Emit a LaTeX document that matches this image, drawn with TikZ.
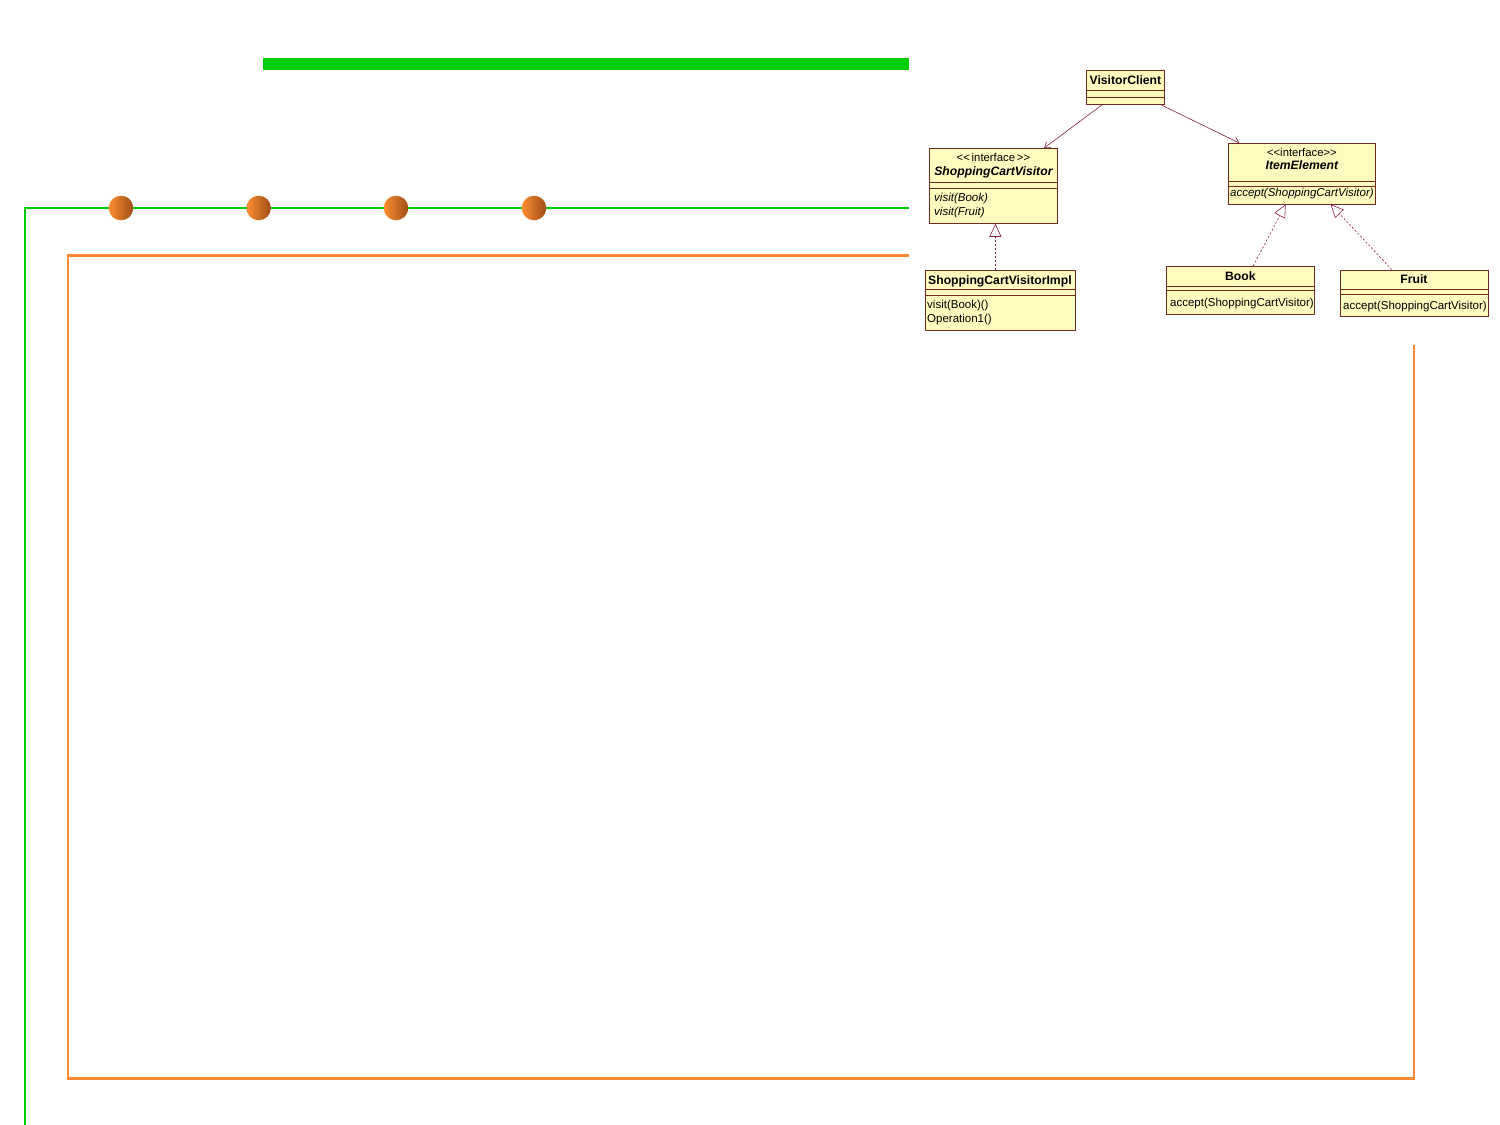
\documentclass[tikz,border=0pt]{standalone}
\usepackage{fontspec}
\setmainfont{Liberation Sans}
\usepackage{xcolor}
\usepackage{tikz}
\usetikzlibrary{arrows.meta}

\definecolor{slidegreen}{RGB}{0,204,0}
\definecolor{slideorange}{RGB}{255,136,51}
\definecolor{balllight}{RGB}{252,142,50}
\definecolor{balldark}{RGB}{160,76,22}
\definecolor{umlfill}{RGB}{255,251,190}
\definecolor{umlborder}{RGB}{112,44,32}
\definecolor{umlline}{RGB}{128,36,60}

\tikzset{
	classbox/.style={draw=umlborder, fill=umlfill, line width=0.8pt, anchor=north west, inner sep=0pt},
	classname/.style={font=\fontsize{12.2}{14}\selectfont\bfseries, anchor=base, inner sep=0pt},
	stereotype/.style={font=\fontsize{11.3}{14}\selectfont, anchor=base, inner sep=0pt},
	operations/.style={font=\fontsize{11.5}{14}\selectfont, anchor=base west, inner sep=0pt, align=left},
	compartment/.style={draw=umlborder, line width=0.8pt},
	assoc/.style={draw=umlline, line width=0.6pt, -{Straight Barb[length=5pt,width=7pt]}},
	realize/.style={draw=umlline, line width=0.6pt, dash pattern=on 2pt off 2pt, -{Triangle[open,length=13pt,width=12pt]}}
}

\begin{document}
\begin{tikzpicture}[x=1pt, y=-1pt]
			\path[use as bounding box, fill=white] (0,0) rectangle (1500,1125);
			
			\coordinate (G1) at (263,58);
			\coordinate (G2) at (909,69.7);
			\coordinate (L1) at (909,208);
			\coordinate (L2) at (25,208);
			\coordinate (L3) at (25,1125);
			\coordinate (F1) at (909,255.3);
			\coordinate (F2) at (68,255.3);
			\coordinate (F3) at (68,1078.7);
			\coordinate (F4) at (1414,1078.7);
			\coordinate (F5) at (1414,345);
			
			\fill[slidegreen] (G1) rectangle (G2);
			\draw[slidegreen, line width=2.2pt] (L1) -- (L2) -- (L3);
			\draw[slideorange, line width=2.7pt] (F1) -- (F2) -- (F3) -- (F4) -- (F5);
			
			\foreach \x in {121,258.7,396,534}{
				\shade[left color=balllight, right color=balldark] (\x,208) circle (12.3);
			}
			
			\node[classbox, minimum width=78pt, minimum height=34pt] (client) at (1086,70) {};
			\draw[compartment] ([yshift=-20pt]client.north west) -- ([yshift=-20pt]client.north east);
			\draw[compartment] ([yshift=-27pt]client.north west) -- ([yshift=-27pt]client.north east);
			\node[classname] (client-name) at ([yshift=-14pt]client.north) {VisitorClient};
			
			\node[classbox, minimum width=128pt, minimum height=75pt] (visitor) at (929,148) {};
			\draw[compartment] ([yshift=-34.7pt]visitor.north west) -- ([yshift=-34.7pt]visitor.north east);
			\draw[compartment] ([yshift=-40.3pt]visitor.north west) -- ([yshift=-40.3pt]visitor.north east);
			\node[stereotype] (visitor-stereo) at ([yshift=-13.5pt]visitor.north) {<{}<\,interface\,>{}>};
			\node[classname, font=\fontsize{12.2}{14}\selectfont\bfseries\itshape] (visitor-name) at ([yshift=-27.3pt]visitor.north) {ShoppingCartVisitor};
			\node[operations, font=\fontsize{11.5}{14}\selectfont\itshape] (visitor-ops) at ([xshift=5pt, yshift=-67pt]visitor.north west) {visit(Book)\\visit(Fruit)};
			
			\node[classbox, minimum width=147pt, minimum height=60.5pt] (element) at (1228,143) {};
			\draw[compartment] ([yshift=-38.7pt]element.north west) -- ([yshift=-38.7pt]element.north east);
			\draw[compartment] ([yshift=-43.7pt]element.north west) -- ([yshift=-43.7pt]element.north east);
			\node[stereotype] (element-stereo) at ([yshift=-13.5pt]element.north) {<{}<interface>{}>};
			\node[classname, font=\fontsize{12.2}{14}\selectfont\bfseries\itshape] (element-name) at ([yshift=-26.3pt]element.north) {ItemElement};
			\node[stereotype, font=\fontsize{11.5}{14}\selectfont\itshape] (element-ops) at ([yshift=-53pt]element.north) {accept(ShoppingCartVisitor)};
			
			\node[classbox, minimum width=150pt, minimum height=60pt] (impl) at (924.5,270) {};
			\draw[compartment] ([yshift=-19.3pt]impl.north west) -- ([yshift=-19.3pt]impl.north east);
			\draw[compartment] ([yshift=-25pt]impl.north west) -- ([yshift=-25pt]impl.north east);
			\node[classname] (impl-name) at ([yshift=-14pt]impl.north) {ShoppingCartVisitorImpl};
			\node[operations] (impl-ops) at ([xshift=2.5pt, yshift=-52pt]impl.north west) {visit(Book)()\\Operation1()};
			
			\node[classbox, minimum width=148pt, minimum height=47.5pt] (book) at (1166,266) {};
			\draw[compartment] ([yshift=-20pt]book.north west) -- ([yshift=-20pt]book.north east);
			\draw[compartment] ([yshift=-24.7pt]book.north west) -- ([yshift=-24.7pt]book.north east);
			\node[classname] (book-name) at ([yshift=-14.7pt]book.north) {Book};
			\node[operations] (book-ops) at ([xshift=4pt, yshift=-40pt]book.north west) {accept(ShoppingCartVisitor)};
			
			\node[classbox, minimum width=148pt, minimum height=46.5pt] (fruit) at (1339.5,269.5) {};
			\draw[compartment] ([yshift=-19.8pt]fruit.north west) -- ([yshift=-19.8pt]fruit.north east);
			\draw[compartment] ([yshift=-24.5pt]fruit.north west) -- ([yshift=-24.5pt]fruit.north east);
			\node[classname] (fruit-name) at ([yshift=-13.8pt]fruit.north) {Fruit};
			\node[operations] (fruit-ops) at ([xshift=3.5pt, yshift=-39.5pt]fruit.north west) {accept(ShoppingCartVisitor)};
			
			\draw[assoc] (client) -- (visitor);
			\draw[assoc] (client) -- (element);
			\draw[realize] ([xshift=2pt]impl.north -| visitor.south) -- ([xshift=2pt]visitor.south);
			\draw[realize] (book) -- (element);
			\draw[realize] (fruit) -- (element);
		\end{tikzpicture}
\end{document}
